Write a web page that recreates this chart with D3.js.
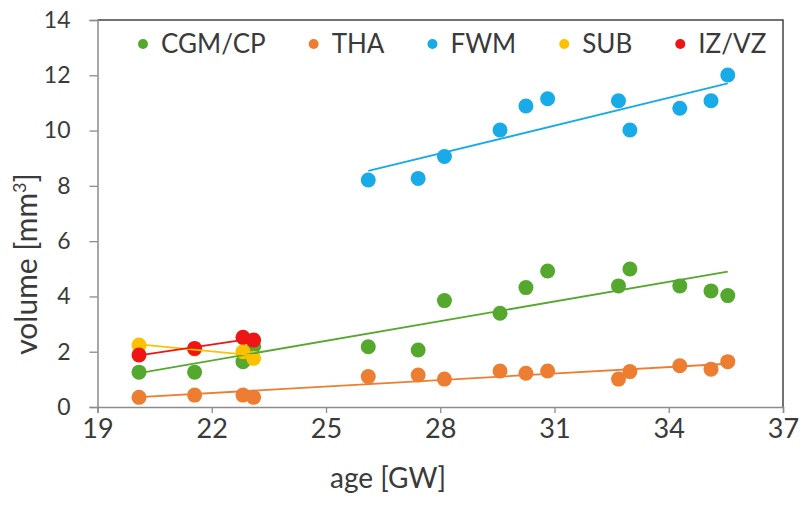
<!DOCTYPE html>
<html>
<head>
<meta charset="utf-8">
<script src="https://cdn.jsdelivr.net/npm/d3@7/dist/d3.min.js"></script>
<style>
  body { margin: 0; background: #fff; }
  text { font-family: Lato, "Open Sans", sans-serif; fill: #3a3a3a; }
</style>
</head>
<body>
<div id="chart"></div>
<script>
var width = 804,
    height = 521,
    margin = {"top": 20, "right": 21, "bottom": 114, "left": 97.5};

// ages shared by the series
var ageAll = [20.09, 21.55, 22.82, 23.1, 26.11, 27.42, 28.11, 29.57, 30.25, 30.82, 32.68, 32.98, 34.29, 35.11, 35.55];
var ageLate = [26.11, 27.42, 28.11, 29.57, 30.25, 30.82, 32.68, 32.98, 34.29, 35.11, 35.55];
var ageEarly = [20.09, 21.55, 22.82, 23.1];

// volumes [mm3]
var cgmValues = [1.26, 1.26, 1.64, 2.2, 2.18, 2.06, 3.85, 3.39, 4.32, 4.92, 4.38, 4.99, 4.38, 4.2, 4.03];
var thaValues = [0.35, 0.43, 0.43, 0.35, 1.10, 1.16, 1.01, 1.30, 1.22, 1.30, 1.01, 1.28, 1.49, 1.37, 1.64];
var fwmValues = [8.21, 8.27, 9.06, 10.02, 10.89, 11.15, 11.08, 10.02, 10.81, 11.08, 12.01];
var subValues = [2.24, 2.1, 2.0, 1.76];
var izValues = [1.88, 2.12, 2.52, 2.42];

var seriesNames = ["CGM/CP", "THA", "FWM", "SUB", "IZ/VZ"];
var seriesColors = ["#55a82e", "#ed7d31", "#19aae8", "#ffc000", "#ee1515"];

var xTicks = [19, 22, 25, 28, 31, 34, 37];
var yTicks = [0, 2, 4, 6, 8, 10, 12, 14];

var series = [
  {name: seriesNames[0], color: seriesColors[0], x: ageAll, y: cgmValues},
  {name: seriesNames[1], color: seriesColors[1], x: ageAll, y: thaValues},
  {name: seriesNames[2], color: seriesColors[2], x: ageLate, y: fwmValues},
  {name: seriesNames[3], color: seriesColors[3], x: ageEarly, y: subValues},
  {name: seriesNames[4], color: seriesColors[4], x: ageEarly, y: izValues}
];

var svg = d3.select("#chart")
  .append("svg")
  .attr("width", width)
  .attr("height", height);

var x = d3.scaleLinear().domain([19, 37]).range([margin.left, width - margin.right]);
var y = d3.scaleLinear().domain([0, 14]).range([height - margin.bottom, margin.top]);

// plot frame (top and right)
svg.append("path")
  .attr("d", "M" + x(19) + "," + y(14) + "H" + x(37) + "V" + y(0))
  .attr("fill", "none")
  .attr("stroke", "#444")
  .attr("stroke-width", 1.5);

// axes
var xAxis = svg.append("g")
  .attr("transform", "translate(0," + y(0) + ")")
  .call(d3.axisBottom(x).tickValues(xTicks).tickSize(6).tickPadding(6).tickFormat(d3.format("d")));
var yAxis = svg.append("g")
  .attr("transform", "translate(" + x(19) + ",0)")
  .call(d3.axisLeft(y).tickValues(yTicks).tickSize(8).tickPadding(19).tickFormat(d3.format("d")));

[xAxis, yAxis].forEach(function(g) {
  g.select(".domain").attr("stroke", "#8c8c8c").attr("stroke-width", 1.5);
  g.selectAll(".tick line").attr("stroke", "#8c8c8c").attr("stroke-width", 1.3);
  g.selectAll("text").attr("fill", "#3a3a3a").style("font-family", "Lato, sans-serif");
});
xAxis.selectAll("text").style("font-size", "27px");
yAxis.selectAll("text").style("font-size", "23px");

// axis titles
svg.append("text")
  .attr("x", 388)
  .attr("y", 488)
  .attr("text-anchor", "middle")
  .style("font-size", "28px")
  .text("age [GW]");

var yTitle = svg.append("text")
  .attr("transform", "translate(37,264) rotate(-90)")
  .attr("text-anchor", "middle")
  .style("font-size", "30px");
yTitle.append("tspan").text("volume [mm");
yTitle.append("tspan").attr("dy", -11).style("font-size", "18px").text("3");
yTitle.append("tspan").attr("dy", 11).text("]");

// least squares trend line for each series
function trend(s) {
  var mx = d3.mean(s.x), my = d3.mean(s.y);
  var sxy = d3.sum(s.x, (v, i) => (v - mx) * (s.y[i] - my));
  var sxx = d3.sum(s.x, v => (v - mx) * (v - mx));
  var b = sxy / sxx, a = my - b * mx;
  var x0 = d3.min(s.x), x1 = d3.max(s.x);
  return [[x0, a + b * x0], [x1, a + b * x1]];
}

// points
series.forEach(function(s) {
  svg.append("g")
    .selectAll("circle")
    .data(s.x.map((v, i) => [v, s.y[i]]))
    .enter()
    .append("circle")
    .attr("cx", d => x(d[0]))
    .attr("cy", d => y(d[1]))
    .attr("r", 7.5)
    .attr("fill", s.color);
});

// trend lines drawn over the points
var line = d3.line().x(d => x(d[0])).y(d => y(d[1]));
series.forEach(function(s) {
  svg.append("path")
    .attr("d", line(trend(s)))
    .attr("fill", "none")
    .attr("stroke", s.color)
    .attr("stroke-width", 1.8);
});

// legend
var legend = svg.append("g").attr("transform", "translate(0,44)");
var lx = 143;
series.forEach(function(s) {
  legend.append("circle").attr("cx", lx).attr("cy", 0).attr("r", 5).attr("fill", s.color);
  var t = legend.append("text")
    .attr("x", lx + 18)
    .attr("y", 0)
    .attr("dy", "0.35em")
    .style("font-size", "26px")
    .text(s.name);
  lx += 18 + t.node().getComputedTextLength() + 48;
});
</script>
</body>
</html>
